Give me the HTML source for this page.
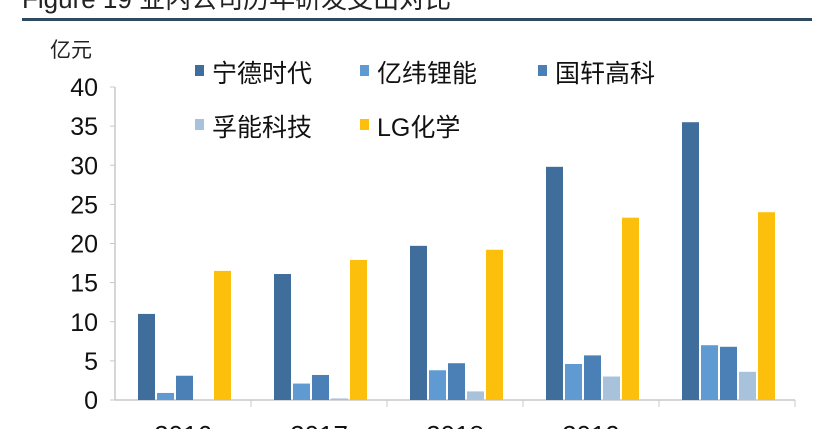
<!DOCTYPE html>
<html><head><meta charset="utf-8"><style>
body{margin:0;background:#fff;width:830px;height:429px;overflow:hidden;font-family:"Liberation Sans","Noto Sans CJK SC",sans-serif}
svg text{font-family:"Liberation Sans","Noto Sans CJK SC",sans-serif}
</style></head><body>
<svg width="830" height="429">
<text x="22" y="8" font-size="26" fill="#222">Figure 19 业内公司历年研发支出对比</text>
<rect x="22" y="18" width="790" height="3" fill="#2f4a5f"/>
<text x="50" y="57" font-size="21" fill="#222">亿元</text>
<g id="axes"></g><g id="bars"></g><g id="legend"></g>
</svg>
<script>
const categories=["2016","2017","2018","2019",""];
const seriesNames=["宁德时代","亿纬锂能","国轩高科","孚能科技","LG化学"];
const catl=[11.0,16.1,19.7,29.8,35.5];
const eve=[0.9,2.1,3.8,4.6,7.0];
const gotion=[3.1,3.2,4.7,5.7,6.8];
const farasis=[0,0.2,1.1,3.0,3.6];
const lgchem=[16.5,17.9,19.2,23.3,24.0];
const yTicks=[0,5,10,15,20,25,30,35,40];
const series=[catl,eve,gotion,farasis,lgchem];
const colors=["#3f6d9c","#5f9ad3","#4b80b6","#a9c2dc","#fcc00c"];
const NS="http://www.w3.org/2000/svg";
const x0=115,x1=795,y0=400,yTop=87;
const bw=(x1-x0)/categories.length;
function y(v){return y0-(v/40)*(y0-yTop);}
function mk(t,a,p){const e=document.createElementNS(NS,t);for(const k in a)e.setAttribute(k,a[k]);p.appendChild(e);return e;}
const ax=document.getElementById('axes');
let l=mk('line',{x1:x0,y1:yTop,x2:x0,y2:y0,stroke:'#c8c8c8','stroke-width':1.5},ax);

l=mk('line',{x1:x0,y1:y0,x2:x1,y2:y0,stroke:'#c8c8c8','stroke-width':1.5},ax);

yTicks.forEach(v=>{
 const t=mk('text',{x:98,y:y(v)+9,'font-size':25,'text-anchor':'end',fill:'#111'},ax);t.textContent=v;
 
 const k=mk('line',{x1:x0-5,y1:y(v),x2:x0,y2:y(v),stroke:'#c8c8c8'},ax);
 
});
categories.forEach((c,i)=>{
 const k=mk('line',{x1:x0+bw*(i+1),y1:y0,x2:x0+bw*(i+1),y2:y0+7,stroke:'#c8c8c8'},ax);
 
 const t=mk('text',{x:x0+bw*i+bw/2,y:y0+44,'font-size':26,'text-anchor':'middle',fill:'#111'},ax);t.textContent=c;
 
});
const bg=document.getElementById('bars');
series.forEach((s,j)=>s.forEach((v,i)=>{
 const bx=x0+bw*i+23+j*19;
 const r=mk('rect',{x:bx,y:y(v),width:17,height:y0-y(v),fill:colors[j]},bg);
 
}));
const lg=document.getElementById('legend');
const pos=[[195,73],[360,73],[538,73],[195,127],[360,127]];
seriesNames.forEach((n,j)=>{
 const [lx,ly]=pos[j];
 const r=mk('rect',{x:lx,y:ly-8,width:9,height:11,fill:colors[j]},lg);
 
 const t=mk('text',{x:lx+17,y:ly+9,'font-size':25,fill:'#111'},lg);t.textContent=n;
 
});
</script>
</body></html>
